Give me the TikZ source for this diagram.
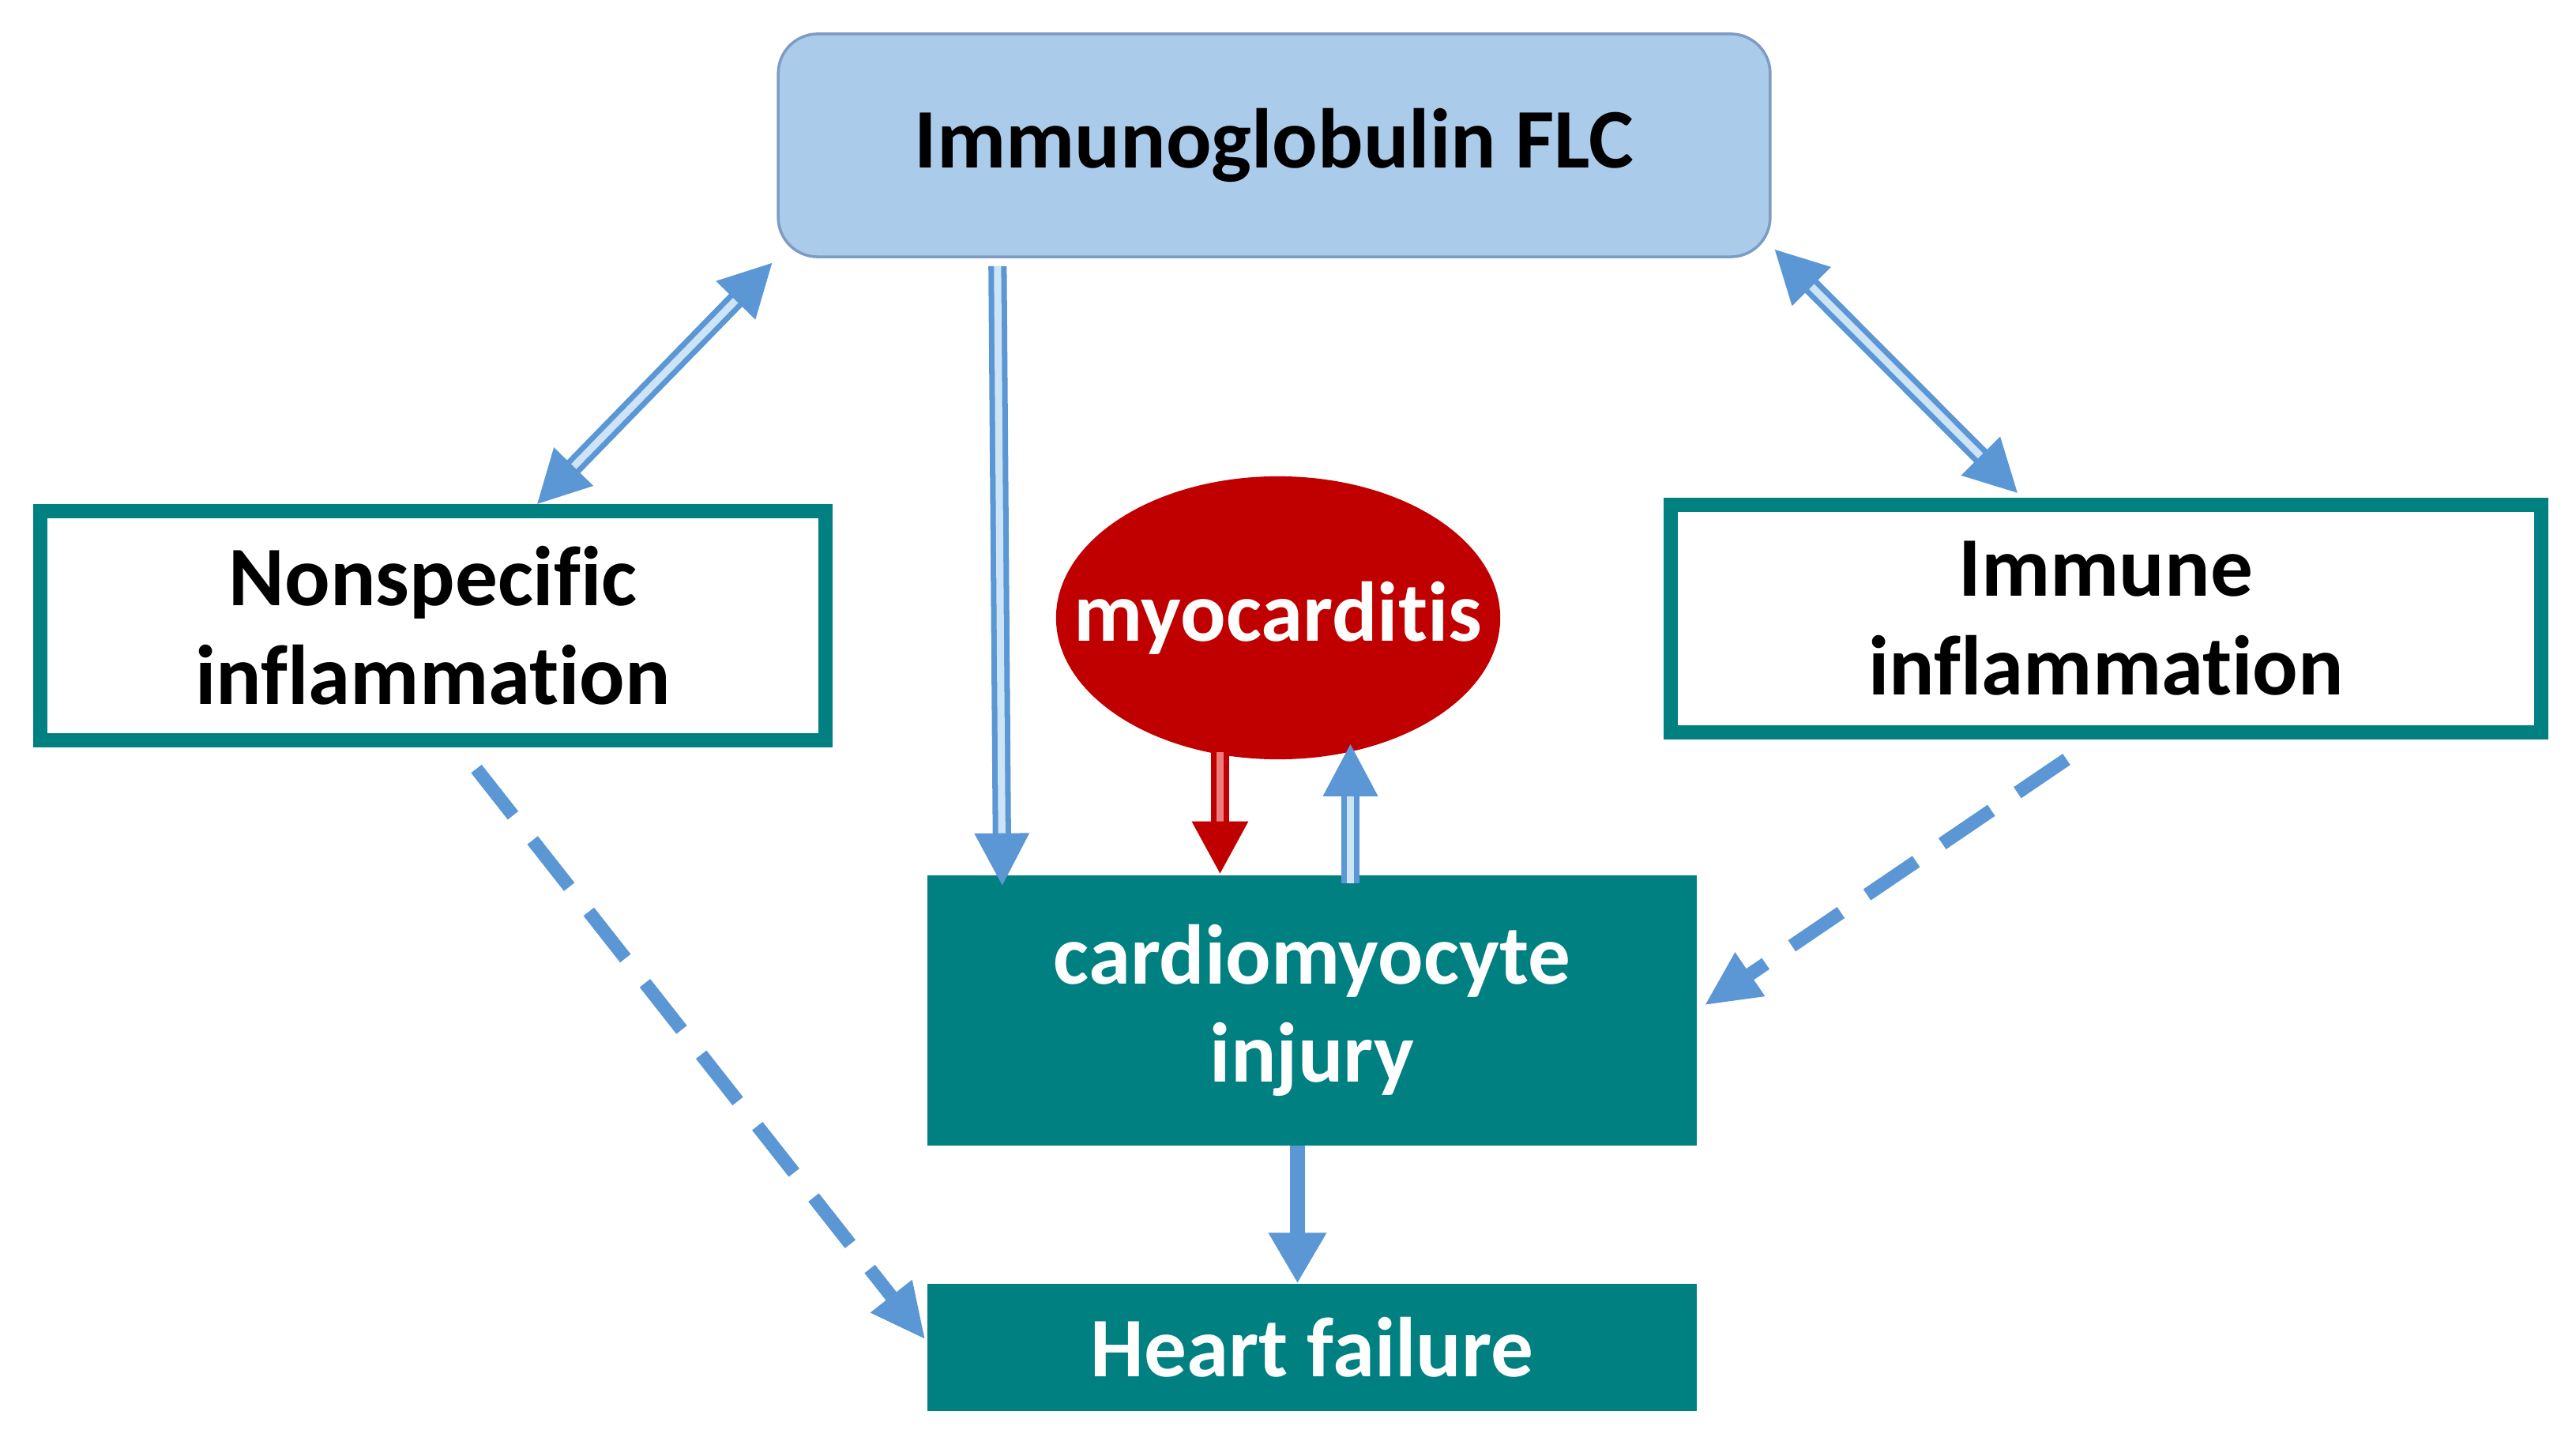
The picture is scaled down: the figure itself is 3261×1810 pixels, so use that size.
\documentclass[tikz,border=0pt]{standalone}
\usepackage{fontspec}
\setmainfont{Carlito}[Ligatures={NoCommon,NoRequired,NoContextual}]
\usepackage{xcolor,tikz}
\usetikzlibrary{arrows.meta,positioning,shapes.geometric}

\definecolor{boxteal}{RGB}{0,128,128}
\definecolor{flcfill}{RGB}{171,203,235}
\definecolor{flcline}{RGB}{125,155,195}
\definecolor{arrowblue}{RGB}{91,150,213}
\definecolor{paleblue}{RGB}{205,228,247}
\definecolor{myored}{RGB}{192,0,0}
\definecolor{palered}{RGB}{236,125,125}

\begin{document}
\begin{tikzpicture}[x=0.01cm,y=-0.01cm,
  txt/.style={font=\fontsize{30.5}{35.5}\selectfont\bfseries,align=center},
  flcbox/.style={txt,draw=flcline,line width=1pt,fill=flcfill,rounded corners=0.5cm,
    minimum width=12.55cm,minimum height=2.82cm},
  inflambox/.style={txt,draw=boxteal,line width=0.18cm,fill=white,
    minimum height=2.9cm},
  injurybox/.style={txt,fill=boxteal,text=white,minimum width=9.73cm},
  myonode/.style={ellipse,fill=myored,inner sep=0pt,
    minimum width=5.62cm,minimum height=3.58cm},
  myotext/.style={txt,text=white},
  dblarrow/.style={draw=arrowblue,double=paleblue,line width=2pt,double distance=2.6pt,
    {Triangle[length=0.66cm,width=0.68cm,fill=arrowblue]}-{Triangle[length=0.66cm,width=0.68cm,fill=arrowblue]}},
  onearrow/.style={draw=arrowblue,double=paleblue,line width=2pt,double distance=2.6pt,
    -{Triangle[length=0.66cm,width=0.68cm,fill=arrowblue]}},
  redarrow/.style={draw=myored,double=palered,line width=2pt,double distance=2.6pt,
    -{Triangle[length=0.66cm,width=0.7cm,fill=myored]}},
  solidarrow/.style={draw=arrowblue,line width=0.19cm,
    -{Triangle[length=0.64cm,width=0.69cm]}},
  dasharrow/.style={draw=arrowblue,line width=0.17cm,dash pattern=on 0.75cm off 0.4cm,
    -{Triangle[length=0.7cm,width=0.62cm]}}]
\useasboundingbox (0,0) rectangle (3261,1810);
\node[flcbox] (flc) at (1613,184) {Immunoglobulin FLC};
\node[inflambox,minimum width=9.94cm] (nonspec) at (548,792) {Nonspecific\\inflammation};
\node[inflambox,minimum width=11.01cm,minimum height=2.88cm] (immune) at (2666,783) {Immune\\inflammation};
\node[myonode,label={[myotext]center:myocarditis}] (myo) at (1618,782) {};
\node[injurybox,minimum height=3.41cm] (injury) at (1661,1279) {cardiomyocyte\\injury};
\node[injurybox,minimum height=1.61cm,below=1.74cm of injury.south,anchor=north] (hf) {Heart failure};
% links to the light chains
\draw[dblarrow] ([xshift=1.32cm]nonspec.north) -- ([xshift=-0.06cm,yshift=-0.06cm]flc.south west);
\draw[dblarrow] ([xshift=0.04cm,yshift=0.11cm]flc.south east) -- ([xshift=-1.12cm,yshift=0.06cm]immune.north);
\draw[onearrow] ([xshift=-3.5cm,yshift=-0.1cm]flc.south) -- ([xshift=-3.92cm,yshift=-0.13cm]injury.north);
% myocarditis loop
\draw[redarrow] ([xshift=-1.165cm,yshift=0.1cm]injury.north |- myo.south) -- ([xshift=-1.165cm,yshift=0.02cm]injury.north);
\draw[onearrow] ([xshift=0.485cm,yshift=-0.1cm]injury.north) -- ([xshift=0.485cm,yshift=0.2cm]injury.north |- myo.south);
\draw[solidarrow] ([xshift=-0.185cm]injury.south) -- ([xshift=-0.185cm]hf.north);
% indirect paths
\draw[dasharrow] ([xshift=0.55cm,yshift=-0.27cm]nonspec.south) -- ([xshift=-0.02cm,yshift=0.1cm]hf.west);
\draw[dasharrow] ([xshift=-0.5cm,yshift=-0.25cm]immune.south) -- ([xshift=0.09cm,yshift=0.065cm]injury.east);
\end{tikzpicture}
\end{document}
